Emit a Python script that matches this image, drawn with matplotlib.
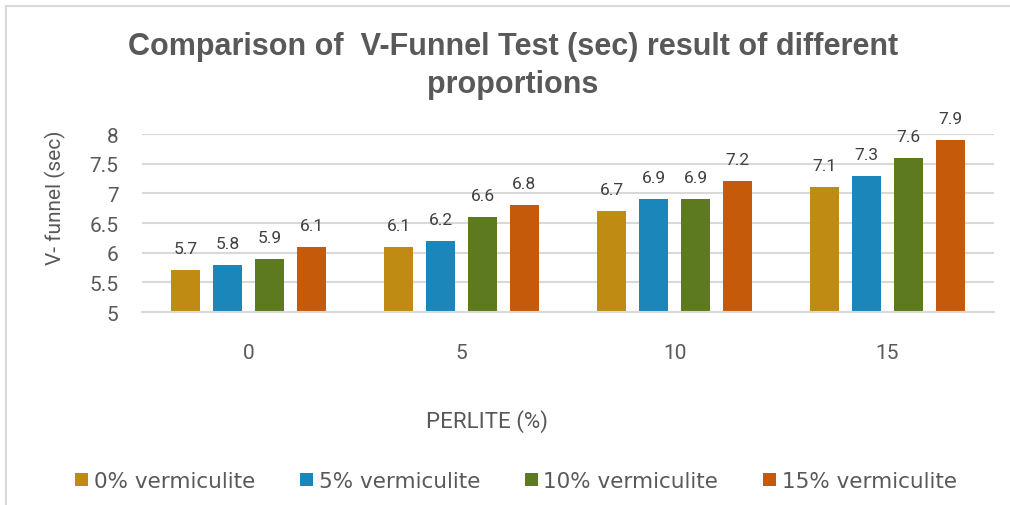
import matplotlib.pyplot as plt
import numpy as np
from matplotlib.patches import Rectangle

perlite = ["0", "5", "10", "15"]
series = ["0% vermiculite", "5% vermiculite", "10% vermiculite", "15% vermiculite"]
vals_0 = [5.7, 6.1, 6.7, 7.1]
vals_5 = [5.8, 6.2, 6.9, 7.3]
vals_10 = [5.9, 6.6, 6.9, 7.6]
vals_15 = [6.1, 6.8, 7.2, 7.9]
colors = ["#BF8B12", "#1A86BA", "#5E7A1E", "#C55A0A"]

plt.rcParams['font.family'] = ['Roboto', 'DejaVu Sans']
txt = "#595959"

fig = plt.figure(figsize=(10.1, 5.06), dpi=100)
ax = fig.add_axes([0.1406, 0.3814, 0.8436, 0.3518])

x = np.arange(len(perlite))
w = 0.133
step = 0.197
for i, (vals, lab, c) in enumerate(zip([vals_0, vals_5, vals_10, vals_15], series, colors)):
    pos = x + (i - 1.5) * step
    ax.bar(pos, np.array(vals) - 5, w, bottom=5, color=c, label=lab)
    for p, v in zip(pos, vals):
        ax.annotate(f"{v:g}", (p, v), xytext=(0, 15.5), textcoords='offset points',
                    ha='center', va='center', fontsize=12.5, color="#404040")

ax.set_xlim(-0.5, 3.5)
ax.set_ylim(5, 8)
yt = np.arange(5, 8.01, 0.5)
ax.set_yticks(yt)
ax.set_yticklabels([f"{t:g}" for t in yt])
ax.set_xticks(x)
ax.set_xticklabels(perlite)
ax.tick_params(axis='both', length=0, labelsize=15, colors=txt)
ax.tick_params(axis='y', pad=17)
ax.tick_params(axis='x', pad=22)
ax.grid(axis='y', color="#D9D9D9", linewidth=1.5)
ax.set_axisbelow(True)
for s in ['top', 'right', 'left']:
    ax.spines[s].set_visible(False)
ax.spines['bottom'].set_color("#D9D9D9")
ax.spines['bottom'].set_linewidth(1.5)

ax.set_xlabel("PERLITE (%)", fontsize=16, color=txt)
ax.xaxis.set_label_coords(0.4045, -0.612)
ax.xaxis.label.set_va('center')
ax.set_ylabel("V- funnel (sec)", fontsize=15, color=txt)
ax.yaxis.set_label_coords(-0.101, 0.65)
ax.yaxis.label.set_va('center')

fig.text(0.508, 0.870, "Comparison of  V-Funnel Test (sec) result of different\nproportions",
         ha='center', va='center', fontsize=22, fontweight='bold', color=txt,
         family=['Liberation Sans', 'DejaVu Sans'], linespacing=1.35)

leg = fig.legend(loc='center', bbox_to_anchor=(0.511, 0.047), ncol=4, frameon=False,
                 handlelength=0.6, handleheight=0.6, handletextpad=0.25,
                 columnspacing=2.1, prop={'family': 'DejaVu Sans', 'size': 15.5})
for t in leg.get_texts():
    t.set_color(txt)

fig.patches.append(Rectangle((0.006, -0.05), 1.1, 1.036, transform=fig.transFigure,
                             fill=False, edgecolor="#D9D9D9", linewidth=1.5))

fig.savefig("out.png", dpi=100)
